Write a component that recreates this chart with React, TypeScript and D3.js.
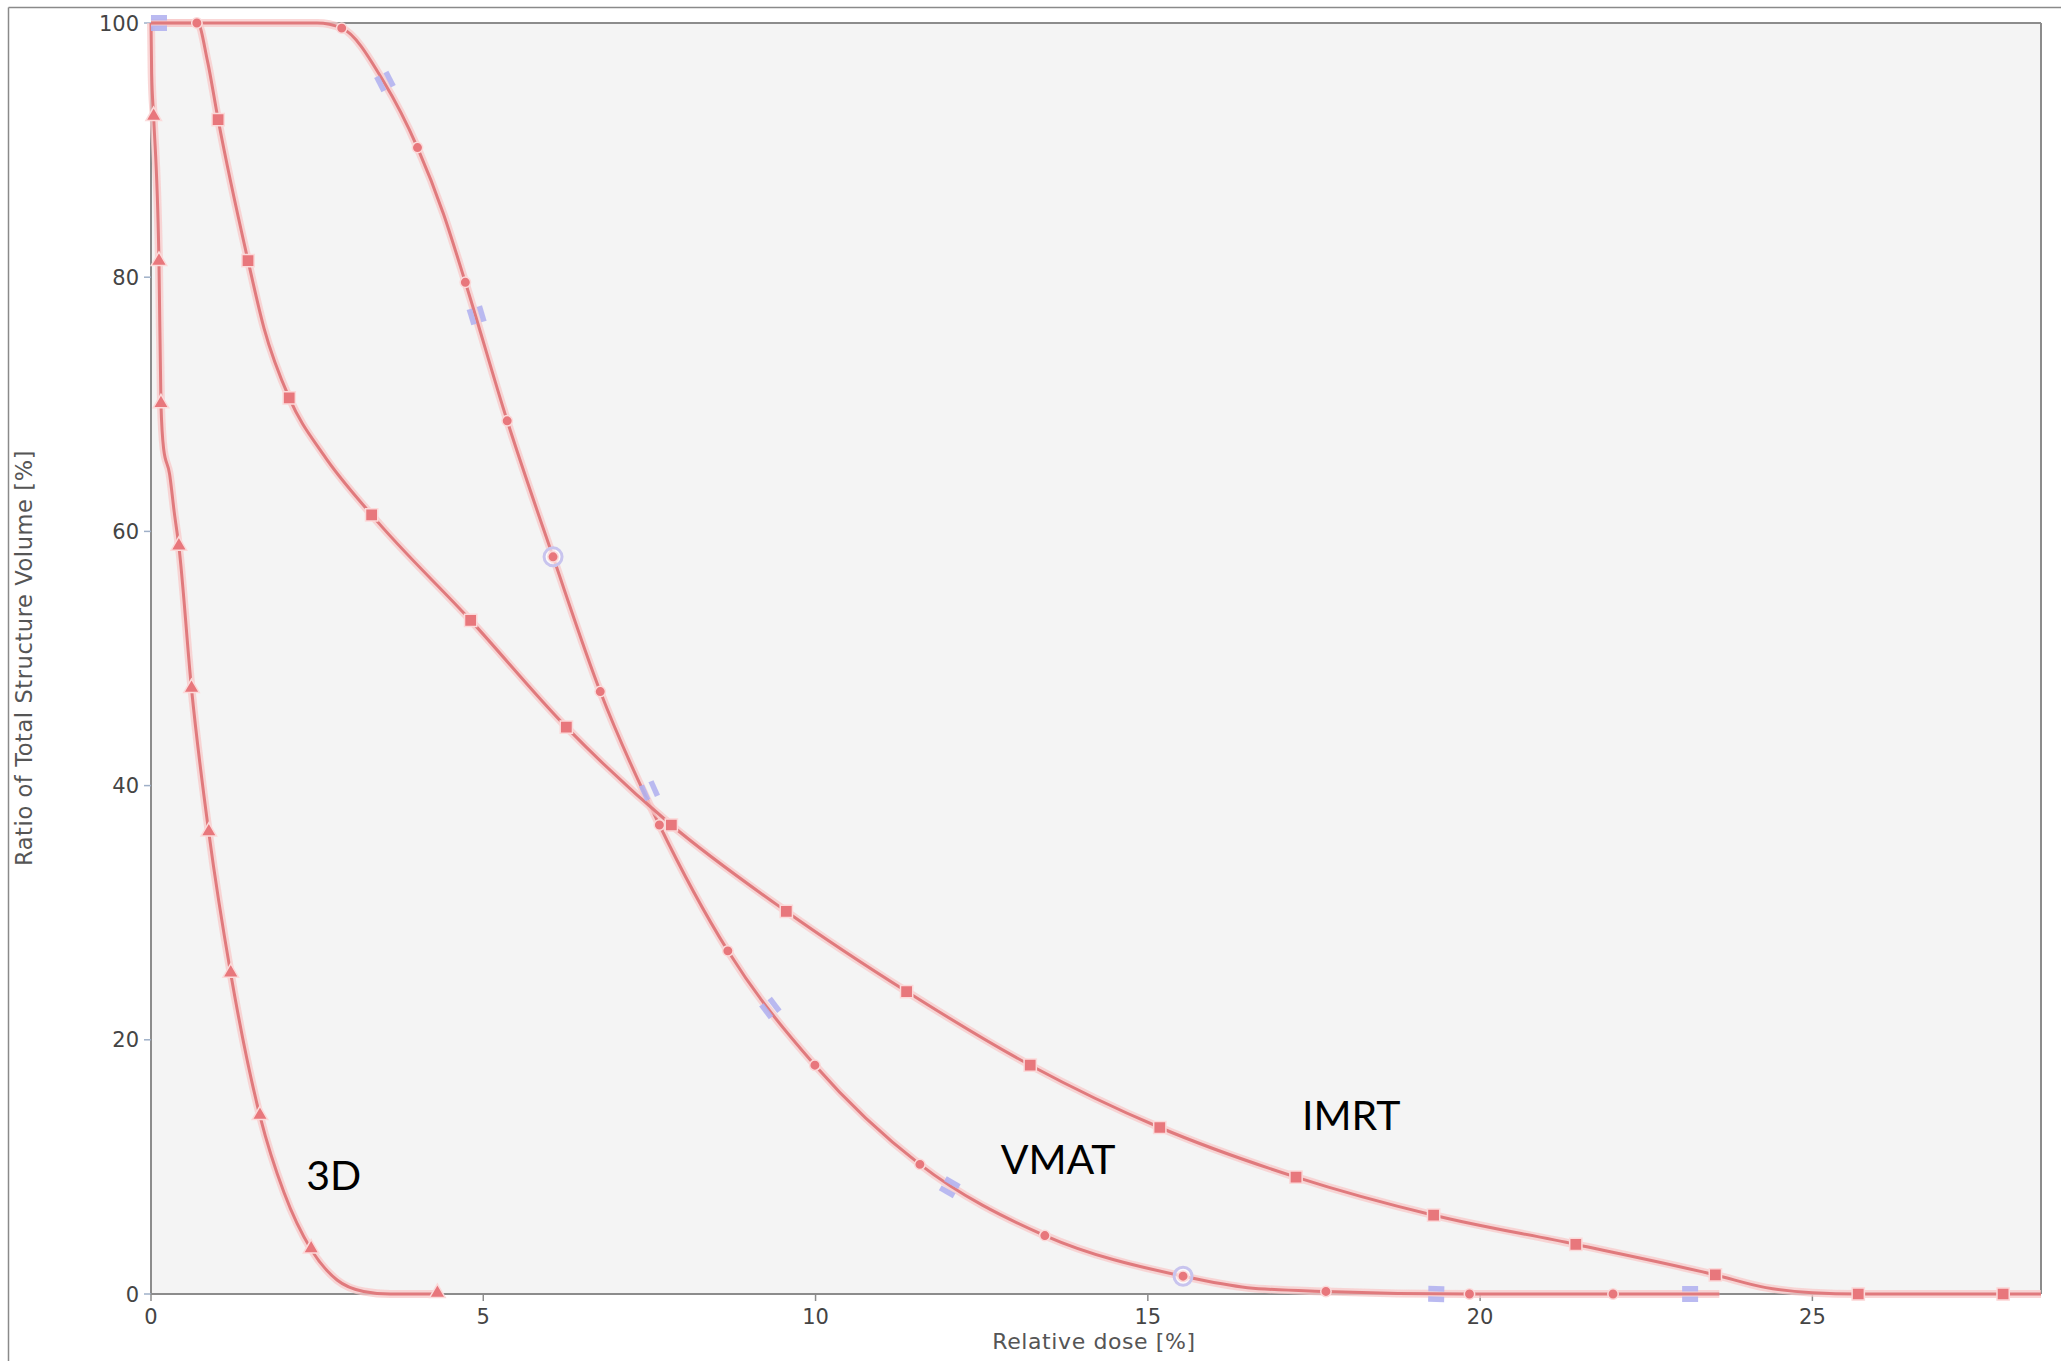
import React from 'react';
import * as d3 from 'd3';

const W = 2061;
const H = 1361;

const xTicks = [0, 5, 10, 15, 20, 25];
const yTicks = [0, 20, 40, 60, 80, 100];
const xLabel = 'Relative dose [%]';
const yLabel = 'Ratio of Total Structure Volume [%]';

// [dose %, volume %]
const threeDCurve: [number, number][] = [
  [0, 100], [0.01, 96], [0.04, 92.6], [0.12, 81.2], [0.15, 70], [0.19, 66.5], [0.28, 64.5],
  [0.35, 61.5], [0.42, 58.8], [0.61, 47.6], [0.87, 36.3], [1.2, 25.2], [1.64, 14],
  [2.0, 8], [2.41, 3.5], [2.8, 1.1], [3.2, 0.2], [3.6, 0], [4.31, 0],
];
const threeDMarkers: [number, number][] = [
  [0.04, 92.6], [0.12, 81.2], [0.15, 70], [0.42, 58.8], [0.61, 47.6], [0.87, 36.3],
  [1.2, 25.2], [1.64, 14], [2.41, 3.5], [4.31, 0],
];

const vmatCurve: [number, number][] = [
  [0, 100], [0.69, 100], [2.5, 100], [2.87, 99.6], [3.5, 95.4], [4.01, 90.2], [4.4, 85],
  [4.73, 79.6], [5.36, 68.7], [6.05, 58], [6.76, 47.4], [7.65, 36.9], [8.68, 27],
  [9.99, 18], [11.57, 10.2], [13.45, 4.6], [15.53, 1.4], [16.5, 0.5], [17.68, 0.2],
  [19.84, 0], [22.0, 0], [23.6, 0],
];
const vmatMarkers: [number, number][] = [
  [0.69, 100], [2.87, 99.6], [4.01, 90.2], [4.73, 79.6], [5.36, 68.7], [6.05, 58],
  [6.76, 47.4], [7.65, 36.9], [8.68, 27], [9.99, 18], [11.57, 10.2], [13.45, 4.6],
  [15.53, 1.4], [17.68, 0.2], [19.84, 0], [22.0, 0],
];

const imrtCurve: [number, number][] = [
  [0, 100], [0.7, 100], [0.85, 97], [1.01, 92.4], [1.46, 81.3], [1.7, 76], [2.08, 70.5],
  [2.6, 66], [3.32, 61.3], [4.81, 53], [6.25, 44.6], [7.83, 36.9], [9.56, 30.1],
  [11.37, 23.8], [13.23, 18], [15.18, 13.1], [17.23, 9.2], [19.3, 6.2], [21.44, 3.9],
  [23.54, 1.5], [24.3, 0.5], [25.0, 0.1], [25.69, 0], [27.87, 0], [28.44, 0],
];
const imrtMarkers: [number, number][] = [
  [1.01, 92.4], [1.46, 81.3], [2.08, 70.5], [3.32, 61.3], [4.81, 53], [6.25, 44.6],
  [7.83, 36.9], [9.56, 30.1], [11.37, 23.8], [13.23, 18], [15.18, 13.1], [17.23, 9.2],
  [19.3, 6.2], [21.44, 3.9], [23.54, 1.5], [25.69, 0], [27.87, 0],
];

// lavender objective marks: [series, dose, volume]
const objectiveBars: [string, number, number][] = [
  ['IMRT', 0.12, 100], ['VMAT', 3.52, 95.4], ['VMAT', 4.9, 77], ['VMAT', 7.5, 39.6],
  ['VMAT', 9.32, 22.5], ['VMAT', 12.02, 8.4], ['VMAT', 19.34, 0], ['VMAT', 23.16, 0],
];
const objectiveRings: [number, number][] = [[6.05, 58], [15.53, 1.4]];

const labels = [
  { text: '3D', x: 2.75, y: 9.3 },
  { text: 'VMAT', x: 13.65, y: 10.6 },
  { text: 'IMRT', x: 18.06, y: 14.0 },
];

const LINE = '#e07a7d';
const HALO = '#f8caca';
const MARK = '#e8777c';

export default function App() {
  const x = d3.scaleLinear().domain([0, 28.44]).range([151, 2041]);
  const y = d3.scaleLinear().domain([0, 100]).range([1294, 23]);
  const line = d3
    .line<[number, number]>()
    .x((d) => x(d[0]))
    .y((d) => y(d[1]))
    .curve(d3.curveMonotoneX);

  const curves = { '3D': threeDCurve, VMAT: vmatCurve, IMRT: imrtCurve } as Record<string, [number, number][]>;

  const tri = d3.symbol(d3.symbolTriangle, 105)() as string;
  const sq = d3.symbol(d3.symbolSquare, 150)() as string;
  const circ = d3.symbol(d3.symbolCircle, 85)() as string;

  const angleAt = (series: string, dx: number) => {
    const pts = curves[series];
    for (let i = 0; i < pts.length - 1; i++) {
      if (dx >= pts[i][0] && dx <= pts[i + 1][0]) {
        const a = pts[i], b = pts[i + 1];
        return (Math.atan2(y(b[1]) - y(a[1]), x(b[0]) - x(a[0])) * 180) / Math.PI;
      }
    }
    return 0;
  };

  const axisFont = '"DejaVu Sans", Verdana, sans-serif';

  return (
    <svg width={W} height={H} style={{ position: 'absolute', left: 0, top: 0, background: '#fff' }}>
      {/* outer frame */}
      <line x1={8.5} y1={7.5} x2={8.5} y2={H} stroke="#8a8a8a" strokeWidth={1.5} />
      <line x1={8.5} y1={7.5} x2={W} y2={7.5} stroke="#8a8a8a" strokeWidth={1.5} />

      {/* plot area */}
      <rect x={x(0)} y={y(100)} width={x(28.44) - x(0)} height={y(0) - y(100)} fill="#f4f4f4" />
      <line x1={x(0)} y1={y(100)} x2={x(28.44)} y2={y(100)} stroke="#8c8c8c" strokeWidth={2} />
      <line x1={x(28.44)} y1={y(100)} x2={x(28.44)} y2={y(0)} stroke="#8c8c8c" strokeWidth={2} />
      <line x1={x(0)} y1={y(100)} x2={x(0)} y2={y(0)} stroke="#8c8c8c" strokeWidth={2} />
      <line x1={x(0)} y1={y(0)} x2={x(28.44)} y2={y(0)} stroke="#8c8c8c" strokeWidth={2} />

      {/* y ticks */}
      {yTicks.map((t) => (
        <g key={'y' + t}>
          <line x1={x(0) - 7} x2={x(0)} y1={y(t)} y2={y(t)} stroke="#9fb0c8" strokeWidth={1.5} />
          <text x={x(0) - 12} y={y(t)} dy="0.36em" textAnchor="end" fontFamily={axisFont} fontSize={21} fill="#444">
            {t}
          </text>
        </g>
      ))}
      {/* x ticks */}
      {xTicks.map((t) => (
        <g key={'x' + t}>
          <line x1={x(t)} x2={x(t)} y1={y(0)} y2={y(0) + 7} stroke="#8c8c8c" strokeWidth={1.5} />
          <text x={x(t)} y={y(0) + 30} textAnchor="middle" fontFamily={axisFont} fontSize={21} fill="#444">
            {t}
          </text>
        </g>
      ))}
      <text x={1094} y={1349} textAnchor="middle" fontFamily={axisFont} fontSize={22} letterSpacing={0.6} fill="#555">
        {xLabel}
      </text>
      <text
        transform={`translate(32, 658) rotate(-90)`}
        textAnchor="middle"
        fontFamily={axisFont}
        fontSize={22.5}
        letterSpacing={0.6}
        fill="#555"
      >
        {yLabel}
      </text>

      {/* curves */}
      {Object.entries(curves).map(([k, pts]) => (
        <g key={k}>
          <path d={line(pts) as string} fill="none" stroke={HALO} strokeWidth={8} strokeLinejoin="round" opacity={0.75} />
          <path d={line(pts) as string} fill="none" stroke={LINE} strokeWidth={3} strokeLinejoin="round" />
        </g>
      ))}

      {/* objective bars */}
      {objectiveBars.map(([s, dx, dy], i) => (
        <g key={'ob' + i} transform={`translate(${x(dx)},${y(dy)}) rotate(${angleAt(s, dx)})`}>
          <rect x={-8} y={-8} width={16} height={5.5} fill="#b3b3f0" opacity={0.9} />
          <rect x={-8} y={2.5} width={16} height={5.5} fill="#b3b3f0" opacity={0.9} />
        </g>
      ))}

      {/* rings */}
      {objectiveRings.map(([dx, dy], i) => (
        <circle key={'r' + i} cx={x(dx)} cy={y(dy)} r={9} fill="#fff" fillOpacity={0.6} stroke="#c8c4ee" strokeWidth={3} />
      ))}

      {/* markers */}
      {threeDMarkers.map(([dx, dy], i) => (
        <path key={'t' + i} d={tri} transform={`translate(${x(dx)},${y(dy) - 1})`} fill={MARK} stroke="#fbdada" strokeWidth={1.5} />
      ))}
      {vmatMarkers.map(([dx, dy], i) => (
        <path key={'c' + i} d={circ} transform={`translate(${x(dx)},${y(dy)})`} fill={MARK} stroke="#fbdada" strokeWidth={1.5} />
      ))}
      {imrtMarkers.map(([dx, dy], i) => (
        <path key={'s' + i} d={sq} transform={`translate(${x(dx)},${y(dy)})`} fill={MARK} stroke="#fbdada" strokeWidth={1.5} />
      ))}

      {/* annotations */}
      {labels.map((l) => (
        <text
          key={l.text}
          x={x(l.x)}
          y={y(l.y)}
          dy="0.35em"
          textAnchor="middle"
          fontFamily="Lato, 'Open Sans', sans-serif"
          fontSize={41}
          fill="#000"
        >
          {l.text}
        </text>
      ))}
    </svg>
  );
}
